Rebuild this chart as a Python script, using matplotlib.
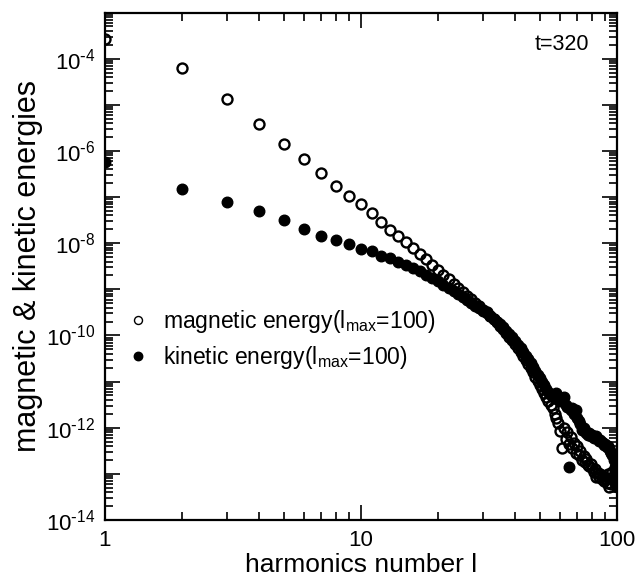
import numpy as np
import matplotlib
matplotlib.use("Agg")
import matplotlib.pyplot as plt
from matplotlib.ticker import LogLocator, FixedLocator, FuncFormatter, NullFormatter

plt.rcParams['font.family'] = ['Liberation Sans', 'DejaVu Sans']
plt.rcParams['mathtext.default'] = 'regular'

# harmonic degree l
harmonics = list(range(1, 101))

# log10 of magnetic energy
magnetic_log10 = [
    -3.57, -4.20, -4.87, -5.41, -5.84, -6.18, -6.47, -6.76, -6.97, -7.15,
    -7.35, -7.54, -7.71, -7.84, -7.98, -8.11, -8.24, -8.35, -8.47, -8.58,
    -8.68, -8.78, -8.88, -8.97, -9.06, -9.14, -9.22, -9.30, -9.37, -9.44,
    -9.50, -9.57, -9.64, -9.71, -9.79, -9.86, -9.95, -10.03, -10.10, -10.19,
    -10.27, -10.36, -10.45, -10.53, -10.62, -10.71, -10.80, -10.90, -10.98, -11.08,
    -11.15, -11.25, -11.33, -11.42, -11.50, -11.58, -11.70, -11.78, -11.90, -12.08,
    -12.44, -12.00, -12.25, -12.10, -12.35, -12.20, -12.45, -12.33, -12.55, -12.40,
    -12.60, -12.50, -12.70, -12.62, -12.75, -12.68, -12.80, -12.84, -12.78, -12.87,
    -12.95, -12.90, -13.06, -12.98, -13.06, -13.00, -13.12, -13.05, -13.15, -13.10,
    -13.20, -13.00, -13.28, -13.10, -13.22, -12.95, -13.15, -12.92, -13.05, -12.88,
]

# log10 of kinetic energy
kinetic_log10 = [
    -6.24, -6.82, -7.11, -7.30, -7.50, -7.69, -7.84, -7.93, -8.02, -8.13,
    -8.18, -8.27, -8.32, -8.40, -8.47, -8.54, -8.61, -8.69, -8.76, -8.83,
    -8.90, -8.97, -9.04, -9.11, -9.17, -9.24, -9.30, -9.36, -9.41, -9.46,
    -9.52, -9.58, -9.64, -9.70, -9.76, -9.82, -9.90, -9.97, -10.04, -10.12,
    -10.20, -10.28, -10.36, -10.44, -10.52, -10.60, -10.68, -10.77, -10.85, -10.93,
    -11.00, -11.08, -11.15, -11.22, -11.28, -11.34, -11.30, -11.25, -11.38, -11.42,
    -11.35, -11.33, -11.50, -11.55, -12.86, -11.62, -11.58, -11.70, -11.61, -11.78,
    -11.85, -11.92, -12.05, -12.00, -12.08, -12.11, -12.15, -12.12, -12.18, -12.16,
    -12.22, -12.20, -12.19, -12.25, -12.28, -12.26, -12.30, -12.33, -12.38, -12.36,
    -12.42, -12.40, -12.45, -12.50, -12.55, -12.60, -12.70, -12.85, -13.05, -13.28,
]

x_ticks = [1, 10, 100]
x_tick_labels = ["1", "10", "100"]
y_label_exponents = [-14, -12, -10, -8, -6, -4]

l = np.array(harmonics)
mag = 10.0 ** np.array(magnetic_log10)
kin = 10.0 ** np.array(kinetic_log10)

fig = plt.figure(figsize=(6.42, 5.79), dpi=100)
ax = fig.add_axes([105/642, 1 - 520/579, 512/642, 507.5/579])

ax.plot(l, kin, linestyle='none', marker='o', markersize=7.6,
        markerfacecolor='black', markeredgecolor='black', markeredgewidth=1.0,
        label=r'kinetic energy(l$_{max}$=100)', zorder=3)
ax.plot(l, mag, linestyle='none', marker='o', markersize=7.2,
        markerfacecolor='none', markeredgecolor='black', markeredgewidth=1.7,
        label=r'magnetic energy(l$_{max}$=100)', zorder=4)

ax.set_xscale('log')
ax.set_yscale('log')
ax.set_xlim(1, 100)
ax.set_ylim(1e-14, 1e-3)

ax.xaxis.set_major_locator(FixedLocator(x_ticks))
ax.set_xticklabels(x_tick_labels)
ax.xaxis.set_minor_locator(LogLocator(base=10, subs=np.arange(2, 10), numticks=50))
ax.xaxis.set_minor_formatter(NullFormatter())

ax.yaxis.set_major_locator(LogLocator(base=10, subs=(1.0,), numticks=50))
ax.yaxis.set_minor_locator(LogLocator(base=10, subs=np.arange(2, 10), numticks=50))
ax.yaxis.set_minor_formatter(NullFormatter())

def yfmt(v, pos):
    e = int(round(np.log10(v)))
    if e in y_label_exponents:
        return r'$10^{\text{-}%d}$' % (-e)
    return ''
ax.yaxis.set_major_formatter(FuncFormatter(yfmt))

ax.tick_params(which='both', direction='in', top=True, right=True, width=1.2,
               labelsize=16, colors='black')
ax.tick_params(which='major', length=10.5)
ax.tick_params(which='minor', length=5.8)
ax.tick_params(axis='x', which='major', pad=7)
ax.tick_params(axis='y', which='major', pad=7)
for s in ax.spines.values():
    s.set_linewidth(1.6)

ax.set_xlabel('harmonics number l', fontsize=19, labelpad=2)
ax.set_ylabel('magnetic & kinetic energies', fontsize=22, labelpad=2)

ax.text(0.945, 0.936, 't=320', transform=ax.transAxes, ha='right', va='center',
        fontsize=15.5)

handles, labels = ax.get_legend_handles_labels()
leg = ax.legend(handles[::-1], labels[::-1], loc='center left',
                bbox_to_anchor=(0.044, 0.356), frameon=False, fontsize=16.5,
                handlelength=0.95, handletextpad=0.6, borderpad=0,
                borderaxespad=0, labelspacing=0.4, markerscale=0.8)
for h in leg.legend_handles:
    h.set_markeredgewidth(1.0)

fig.savefig('out.png', dpi=100)
